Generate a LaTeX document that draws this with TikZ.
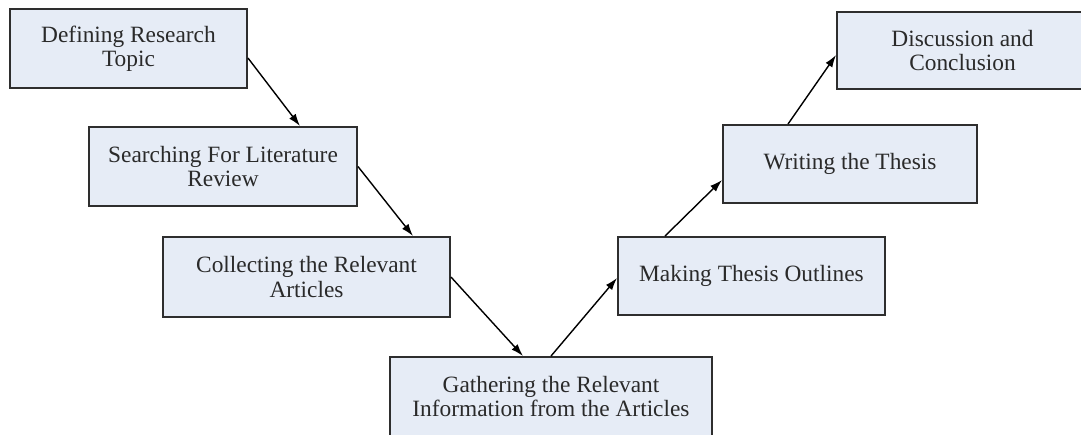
\documentclass[tikz,border=0pt]{standalone}
\usepackage{fontspec}
\setmainfont{Liberation Serif}
\usetikzlibrary{arrows.meta,calc}
\definecolor{boxfill}{HTML}{E6ECF6}
\definecolor{boxline}{HTML}{2E2E2E}
\definecolor{txt}{HTML}{2A2A2A}
\begin{document}
\begin{tikzpicture}[x=0.02cm,y=-0.02cm,
  stagebox/.style={draw=boxline,fill=boxfill,line width=1.1pt,inner sep=0pt,
    align=center,text=txt,font=\fontsize{13.3}{13.8}\selectfont},
  flow/.style={-{Latex[length=7pt,width=4.6pt]},line width=0.8pt,draw=black}]
\useasboundingbox (0,0) rectangle (1081,434);
\clip (0,0) rectangle (1081,434);
% process stages
\node[stagebox,minimum width=237*0.02cm,minimum height=79*0.02cm] (b1) at (128.5,48.5) {Defining Research\\Topic};
\node[stagebox,minimum width=268*0.02cm,minimum height=79*0.02cm] (b2) at (223,166.5) {Searching For Literature\\Review};
\node[stagebox,minimum width=287*0.02cm,minimum height=80*0.02cm] (b3) at (306.5,277) {Collecting the Relevant\\Articles};
\node[stagebox,minimum width=322*0.02cm,minimum height=79*0.02cm] (b4) at (551,396.5) {Gathering the Relevant\\Information from the Articles};
\node[stagebox,minimum width=267*0.02cm,minimum height=78*0.02cm] (b5) at (751.5,276) {Making Thesis Outlines};
\node[stagebox,minimum width=254*0.02cm,minimum height=78*0.02cm] (b6) at (850,164) {Writing the Thesis};
\node[stagebox,minimum width=251*0.02cm,minimum height=77*0.02cm] (b7) at (962.5,50.5) {Discussion and\\Conclusion};
% connectors
\draw[flow] ($(b1.east)+(0,9.5)$) -- ($(b2.north)+(77,0)$);
\draw[flow] (b2.east) -- ($(b3.north)+(106.5,0)$);
\draw[flow] (b3.east) -- ($(b4.north)+(-28,0)$);
\draw[flow] (b4.north) -- ($(b5.west)+(0,2)$);
\draw[flow] ($(b5.north)+(-86.5,0)$) -- ($(b6.west)+(0,16)$);
\draw[flow] ($(b6.north)+(-62,0)$) -- ($(b7.west)+(0,4.5)$);
\end{tikzpicture}
\end{document}
